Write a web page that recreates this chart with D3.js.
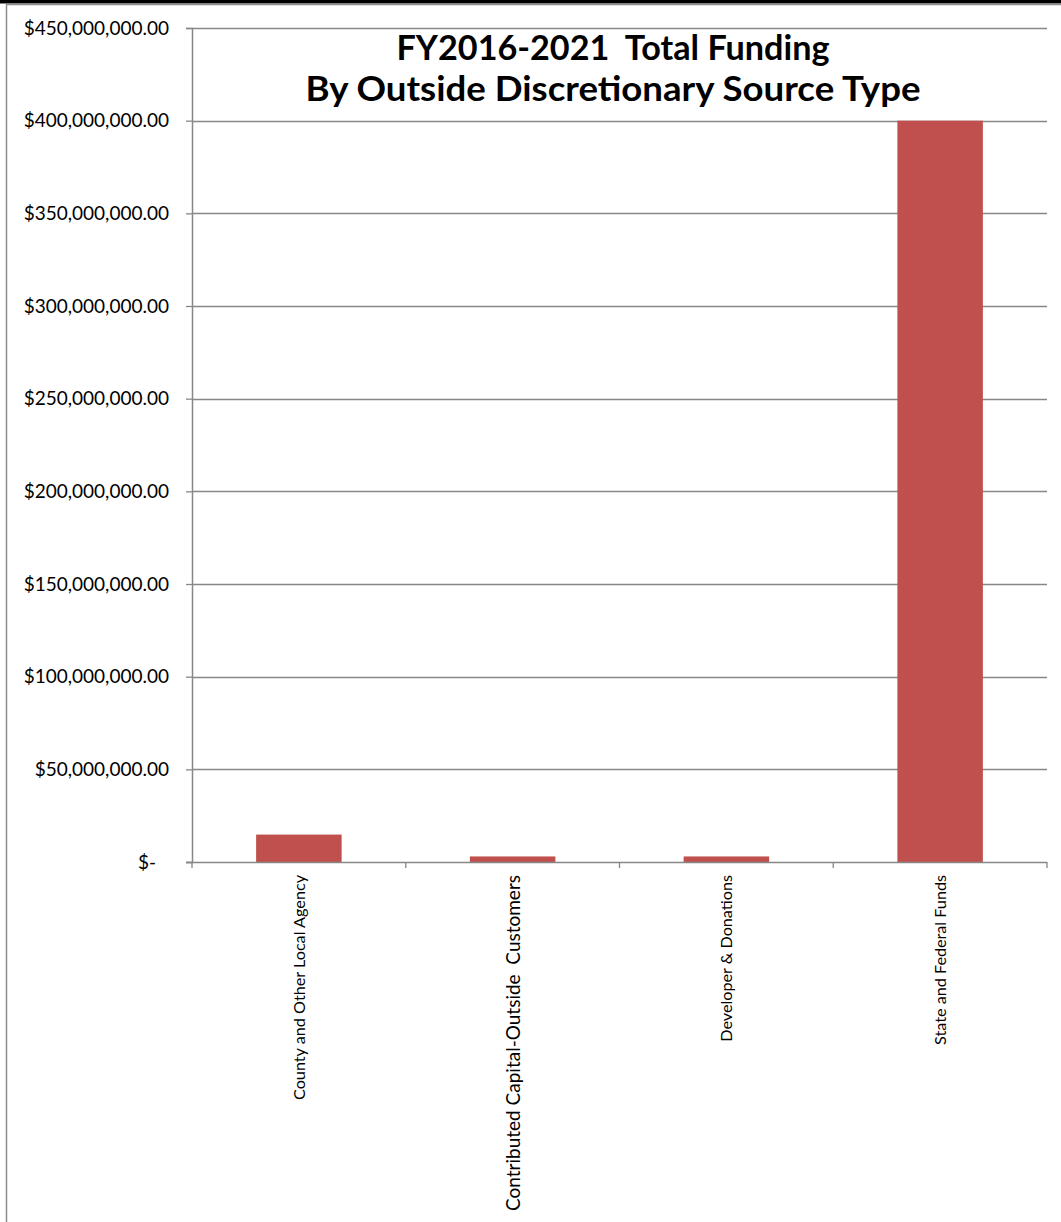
<!DOCTYPE html>
<html><head><meta charset="utf-8">
<script src="https://cdn.jsdelivr.net/npm/d3@7"></script>
<style>
html,body{margin:0;padding:0;background:#fff;}
svg{display:block;}
text{font-family:Lato,"Open Sans",sans-serif;white-space:pre;}
</style></head>
<body>
<svg id="chart" width="1061" height="1222"></svg>
<script>
const categories = ["County and Other Local Agency","Contributed Capital-Outside  Customers","Developer & Donations","State and Federal Funds"];
const values = [14800000, 3000000, 3000000, 400000000];
const tickValues = [0,50000000,100000000,150000000,200000000,250000000,300000000,350000000,400000000,450000000];
const titleLines = ["FY2016-2021  Total Funding","By Outside Discretionary Source Type"];

const svg = d3.select("#chart");
const W = 1061, H = 1222;
const m = {left:192, right:1047, top:28, bottom:862};

// frame
svg.append("rect").attr("x",0).attr("y",0).attr("width",W).attr("height",3.5).attr("fill","#000");
svg.append("line").attr("x1",6).attr("x2",W).attr("y1",4.5).attr("y2",4.5).attr("stroke","#8c8c8c").attr("stroke-width",1.5);
svg.append("line").attr("x1",6.5).attr("x2",6.5).attr("y1",4).attr("y2",H).attr("stroke","#8c8c8c").attr("stroke-width",1.5);

const x = d3.scaleBand().domain(categories).range([m.left,m.right]).paddingInner(0.6).paddingOuter(0.3);
const y = d3.scaleLinear().domain([0,450000000]).range([m.bottom,m.top]);

// gridlines
svg.append("g").selectAll("line").data(tickValues.filter(d=>d>0)).join("line")
  .attr("x1",m.left).attr("x2",m.right)
  .attr("y1",d=>Math.round(y(d))+0.5).attr("y2",d=>Math.round(y(d))+0.5)
  .attr("stroke","#878787").attr("stroke-width",1.3);

// bars
svg.append("g").selectAll("rect").data(values).join("rect")
  .attr("x",(d,i)=>x(categories[i]))
  .attr("width",x.bandwidth())
  .attr("y",d=>y(d))
  .attr("height",d=>y(0)-y(d))
  .attr("fill","#c0504d");

// y axis
const fmt = d => d===0 ? "$-" : "$" + d3.format(",.2f")(d);
const yAxis = svg.append("g").attr("transform",`translate(${m.left},0)`)
  .call(d3.axisLeft(y).tickValues(tickValues).tickSize(6).tickPadding(17).tickFormat(fmt));
yAxis.select(".domain").attr("stroke","#878787").attr("stroke-width",1.5);
yAxis.selectAll(".tick line").attr("stroke","#878787").attr("stroke-width",1.3);
yAxis.selectAll(".tick text").attr("font-size",19).attr("fill","#000")
  .attr("dx",d=>d===0?-13:0);

// x axis line with boundary ticks
const xAxisG = svg.append("g");
xAxisG.append("line").attr("x1",m.left-6).attr("x2",m.right).attr("y1",m.bottom+0.5).attr("y2",m.bottom+0.5)
  .attr("stroke","#878787").attr("stroke-width",1.5);
const bounds = d3.range(categories.length+1).map(i=>m.left + i*(m.right-m.left)/categories.length);
xAxisG.selectAll("line.b").data(bounds).join("line").attr("class","b")
  .attr("x1",d=>d).attr("x2",d=>d).attr("y1",m.bottom).attr("y2",m.bottom+6)
  .attr("stroke","#878787").attr("stroke-width",1.3);

// x labels (the second label is drawn larger in the original)
svg.append("g").selectAll("text").data(categories).join("text")
  .attr("transform",(d,i)=>`translate(${x(d)+x.bandwidth()/2+(i===1?7:6)},${m.bottom+13}) rotate(-90)`)
  .attr("text-anchor","end")
  .attr("font-size",(d,i)=>i===1?19:16.2)
  .attr("fill","#000")
  .text(d=>d);

// title
const titleWidths = [433, 615];
svg.append("g").selectAll("text").data(titleLines).join("text")
  .attr("x",613).attr("y",(d,i)=>60+i*41)
  .attr("text-anchor","middle").attr("font-weight","bold").attr("font-size",35)
  .attr("textLength",(d,i)=>titleWidths[i]).attr("lengthAdjust","spacingAndGlyphs")
  .attr("fill","#000").text(d=>d);
</script>
</body></html>
